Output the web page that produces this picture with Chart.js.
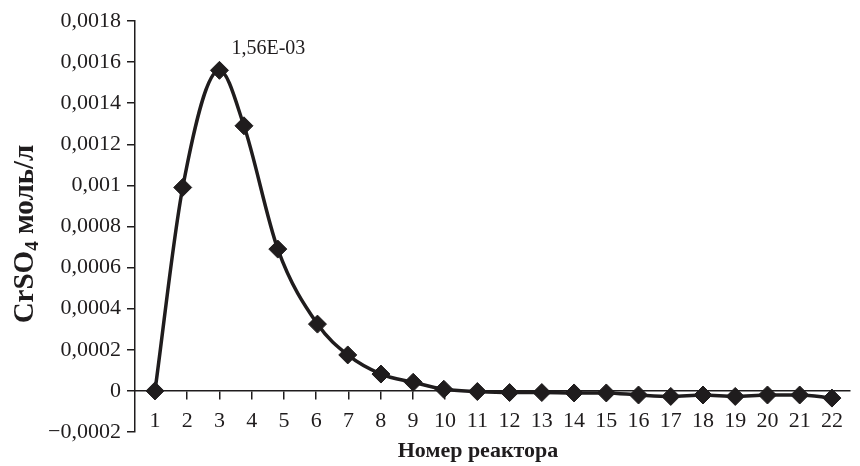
<!DOCTYPE html>
<html><head><meta charset="utf-8">
<script src="https://cdn.jsdelivr.net/npm/chart.js@4.4.1/dist/chart.umd.min.js"></script>
<style>html,body{margin:0;padding:0;background:#fff;} #wrap{width:860px;height:466px;}</style>
</head><body><div id="wrap"><canvas id="c" width="860" height="466"></canvas></div>
<script>
// ---- data ----
const reactorNumbers = [1, 2, 3, 4, 5, 6, 7, 8, 9, 10, 11, 12, 13, 14, 15, 16, 17, 18, 19, 20, 21, 22];
const reactorPositions = [1, 1.86, 3, 3.76, 4.81, 6.04, 6.98, 8.01, 9.01, 9.96, 11, 12, 13, 14, 15, 16, 17, 18, 19, 20, 21, 22];
const crso4Values = [0, 0.00099, 0.00156, 0.00129, 0.00069, 0.000325, 0.000175, 0.000082, 0.000042, 0.000008,
  -0.000003, -0.000008, -0.000008, -0.00001, -0.00001, -0.00002, -0.000027, -0.00002, -0.000027, -0.00002, -0.00002, -0.000035];
const xTickLabels = reactorNumbers.map(String);
const yTickValues = [-0.0002, 0, 0.0002, 0.0004, 0.0006, 0.0008, 0.001, 0.0012, 0.0014, 0.0016, 0.0018];
const yTickLabels = ['\u22120,0002', '0', '0,0002', '0,0004', '0,0006', '0,0008', '0,001', '0,0012', '0,0014', '0,0016', '0,0018'];
const peakLabel = '1,56E-03';
const xTitle = 'Номер реактора';
const yTitleMain = 'CrSO';
const yTitleSub = '4';
const yTitleRest = ' моль/л';

const INK = '#1f1c1d';
const SERIF = '"Liberation Serif", "DejaVu Serif", serif';

const textPlugin = {
  id: 'texts',
  afterDraw(chart) {
    const c = chart.ctx;
    c.save();
    c.fillStyle = INK;
    // peak data label
    const meta = chart.getDatasetMeta(0);
    const peakIdx = crso4Values.indexOf(Math.max(...crso4Values));
    const p = meta.data[peakIdx];
    c.font = '20px ' + SERIF;
    c.textAlign = 'left';
    c.textBaseline = 'middle';
    c.fillText(peakLabel, p.x + 12, p.y - 22);
    // x title
    c.font = 'bold 22px ' + SERIF;
    c.textAlign = 'center';
    c.fillText(xTitle, 478, 451);
    // y title (rotated, with subscript)
    c.translate(24, 234);
    c.rotate(-Math.PI / 2);
    const fMain = 'bold 29px ' + SERIF, fSub = 'bold 19px ' + SERIF;
    c.font = fMain;
    const w1 = c.measureText(yTitleMain).width;
    const w3 = c.measureText(yTitleRest).width;
    c.font = fSub;
    const w2 = c.measureText(yTitleSub).width;
    const x0 = -(w1 + w2 + w3) / 2;
    c.textAlign = 'left';
    c.textBaseline = 'alphabetic';
    c.font = fMain; c.fillText(yTitleMain, x0, 9);
    c.font = fSub; c.fillText(yTitleSub, x0 + w1, 14);
    c.font = fMain; c.fillText(yTitleRest, x0 + w1 + w2, 9);
    c.restore();
  }
};

new Chart(document.getElementById('c').getContext('2d'), {
  type: 'line',
  data: {
    datasets: [{
      data: reactorPositions.map((x, i) => ({ x: x, y: crso4Values[i] })),
      borderColor: INK,
      borderWidth: 3.5,
      pointStyle: 'rectRot',
      pointRadius: 9,
      pointBackgroundColor: INK,
      pointBorderColor: INK,
      pointBorderWidth: 1,
      cubicInterpolationMode: 'monotone',
      fill: false,
      clip: false
    }]
  },
  options: {
    responsive: false,
    animation: false,
    devicePixelRatio: 1,
    layout: { padding: { left: 0, right: 10, top: 21, bottom: 34 } },
    plugins: { legend: { display: false }, tooltip: { enabled: false } },
    scales: {
      x: {
        type: 'linear',
        position: { y: 0 },
        min: 0.38,
        max: 22.56,
        afterBuildTicks: s => { s.ticks = reactorNumbers.map(v => ({ value: v })); },
        ticks: {
          callback: (v, i) => xTickLabels[i],
          font: { family: SERIF, size: 22 },
          color: INK,
          padding: 9,
          maxRotation: 0,
          autoSkip: false
        },
        grid: { drawOnChartArea: false, drawTicks: true, tickLength: 8, color: INK, lineWidth: 1.5 },
        border: { display: true, color: INK, width: 1.5 }
      },
      y: {
        min: -0.0002,
        max: 0.0018,
        afterBuildTicks: s => { s.ticks = yTickValues.map(v => ({ value: v })); },
        afterFit: s => { s.width = 135; },
        ticks: {
          callback: (v, i) => yTickLabels[i],
          font: { family: SERIF, size: 22 },
          color: INK,
          padding: 6,
          autoSkip: false
        },
        grid: { drawOnChartArea: false, drawTicks: true, tickLength: 8, color: INK, lineWidth: 1.5 },
        border: { display: true, color: INK, width: 1.5 }
      }
    }
  },
  plugins: [textPlugin]
});
</script>
</body></html>
